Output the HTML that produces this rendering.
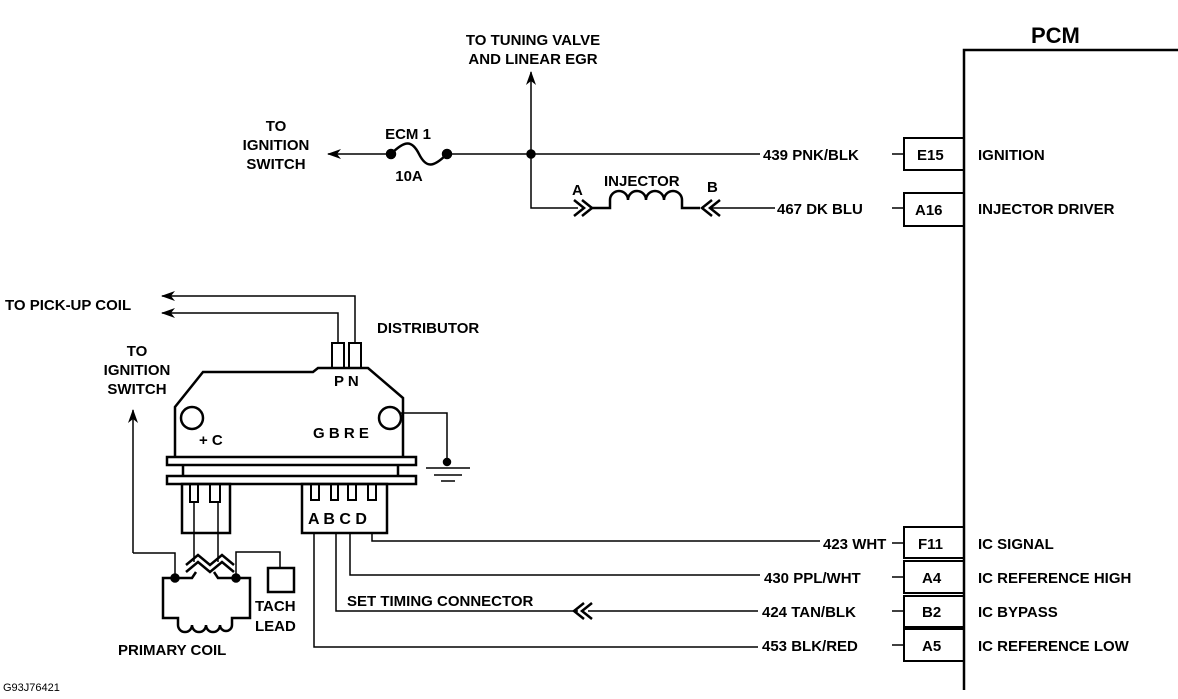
<!DOCTYPE html>
<html><head><style>
body{margin:0;background:#fff}
svg{display:block}
text{font-family:"Liberation Sans",sans-serif;font-weight:bold;fill:#000;font-size:15px}
</style></head><body>
<svg width="1178" height="699" viewBox="0 0 1178 699" xmlns="http://www.w3.org/2000/svg">
<defs>
<marker id="ar" markerWidth="14" markerHeight="10" refX="13" refY="5" orient="auto" markerUnits="userSpaceOnUse">
<path d="M0,0 L14,5 L0,10 L4,5 Z" fill="#000" stroke="none"/>
</marker>
</defs>
<g fill="none" stroke="#000" stroke-width="1.5">
<!-- PCM -->
<path d="M964,690 V50 H1178" stroke-width="2.5"/>
<rect x="904" y="138" width="60" height="32" stroke-width="2"/>
<rect x="904" y="193" width="60" height="33" stroke-width="2"/>
<rect x="904" y="527" width="60" height="31" stroke-width="2"/>
<rect x="904" y="561" width="60" height="32" stroke-width="2"/>
<rect x="904" y="596" width="60" height="31" stroke-width="2"/>
<rect x="904" y="629" width="60" height="32" stroke-width="2"/>
<!-- ignition wire -->
<path d="M892,154 H904"/>
<path d="M760,154 H447"/>
<path d="M391,154 H328" marker-end="url(#ar)"/>
<path d="M391,154 C405,140 412,140 419,154 C426,168 433,168 447,154" stroke-width="2.5"/>
<path d="M531,154 V72" marker-end="url(#ar)"/>
<path d="M531,154 V208 H578"/>
<path d="M574,200 L584,208 L574,216 M582,200 L592,208 L582,216" stroke-width="2.5"/>
<path d="M592,208 H610 V200 a9,9 0 0 1 18,0 a9,9 0 0 1 18,0 a9,9 0 0 1 18,0 a9,9 0 0 1 18,0 V208 H700" stroke-width="2.5"/>
<path d="M712,200 L702,208 L712,216 M720,200 L710,208 L720,216" stroke-width="2.5"/>
<path d="M712,208 H775 M892,208 H904"/>
<!-- module -->
<path d="M175,457 V407 L203,372 H313 L318,368 H368 L403,398 V457" stroke-width="2.5"/>
<circle cx="192" cy="418" r="11" stroke-width="2.5"/>
<circle cx="390" cy="418" r="11" stroke-width="2.5"/>
<rect x="167" y="457" width="249" height="8" stroke-width="2.5"/>
<path d="M183,465 V476 M398,465 V476" stroke-width="2.5"/>
<rect x="167" y="476" width="249" height="8" stroke-width="2.5"/>
<rect x="332" y="343" width="12" height="25" stroke-width="2"/>
<rect x="349" y="343" width="12" height="25" stroke-width="2"/>
<path d="M338,343 V313 H162" marker-end="url(#ar)"/>
<path d="M355,343 V296 H162" marker-end="url(#ar)"/>
<!-- ground -->
<path d="M401,413 H447 V462"/>
<circle cx="447" cy="462" r="3.5" fill="#000"/>
<path d="M426,468 H470 M434,475 H462 M441,481 H455"/>
<!-- left connector -->
<rect x="182" y="484" width="48" height="49" stroke-width="2.5"/>
<path d="M190,484 V502 H198 V484 M210,484 V502 H220 V484" stroke-width="2"/>
<path d="M194,502 V562 M218,502 V562"/>
<path d="M186,565 L198,555 L210,565 L222,555 L234,565 M186,572 L198,562 L210,572 L222,562 L234,572" stroke-width="2.5"/>
<!-- right connector -->
<rect x="302" y="484" width="85" height="49" stroke-width="2.5"/>
<path d="M311,484 V500 H319 V484 M331,484 V500 H338 V484 M348,484 V500 H356 V484 M368,484 V500 H376 V484" stroke-width="2"/>
<!-- wires -->
<path d="M372,533 V541 H820"/>
<path d="M350,533 V575 H760"/>
<path d="M336,533 V611 H578"/>
<path d="M584,603 L574,611 L584,619 M592,603 L582,611 L592,619" stroke-width="2.5"/>
<path d="M588,611 H758"/>
<path d="M314,533 V647 H758"/>
<path d="M892,543 H904 M892,577 H904 M892,611 H904 M892,645 H904"/>
<!-- primary coil -->
<path d="M133,553 V410" marker-end="url(#ar)"/>
<path d="M133,553 H175 V578"/>
<path d="M236,578 V552 H280 V568"/>
<rect x="268" y="568" width="26" height="24" stroke-width="2.5"/>
<path d="M175,578 L192,578 L196,572 M236,578 L218,578 L214,572" stroke-width="2.5"/>
<path d="M175,578 H163 V618 H178 V625 a7,7 0 0 0 14,0 a7,7 0 0 0 14,0 a7,7 0 0 0 14,0 a6,6 0 0 0 12,0 V618 H250 V578 H236" stroke-width="2.5"/>
<circle cx="175" cy="578" r="4" fill="#000"/>
<circle cx="236" cy="578" r="4" fill="#000"/>
<circle cx="391" cy="154" r="4.5" fill="#000"/>
<circle cx="447" cy="154" r="4.5" fill="#000"/>
<circle cx="531" cy="154" r="4" fill="#000"/>
</g>
<text x="1031" y="43" style="font-size:22px">PCM</text>
<text x="978" y="160">IGNITION</text>
<text x="978" y="214">INJECTOR DRIVER</text>
<text x="978" y="549">IC SIGNAL</text>
<text x="978" y="583">IC REFERENCE HIGH</text>
<text x="978" y="617">IC BYPASS</text>
<text x="978" y="651">IC REFERENCE LOW</text>
<text x="917" y="160">E15</text>
<text x="915" y="215">A16</text>
<text x="918" y="549">F11</text>
<text x="922" y="583">A4</text>
<text x="922" y="617">B2</text>
<text x="922" y="651">A5</text>
<text x="763" y="160">439 PNK/BLK</text>
<text x="777" y="214">467 DK BLU</text>
<text x="823" y="549">423 WHT</text>
<text x="764" y="583">430 PPL/WHT</text>
<text x="762" y="617">424 TAN/BLK</text>
<text x="762" y="651">453 BLK/RED</text>
<text x="533" y="45" text-anchor="middle">TO TUNING VALVE</text>
<text x="533" y="64" text-anchor="middle">AND LINEAR EGR</text>
<text x="276" y="131" text-anchor="middle">TO</text>
<text x="276" y="150" text-anchor="middle">IGNITION</text>
<text x="276" y="169" text-anchor="middle">SWITCH</text>
<text x="408" y="139" text-anchor="middle">ECM 1</text>
<text x="409" y="181" text-anchor="middle">10A</text>
<text x="572" y="195">A</text>
<text x="604" y="186">INJECTOR</text>
<text x="707" y="192">B</text>
<text x="5" y="310">TO PICK-UP COIL</text>
<text x="377" y="333">DISTRIBUTOR</text>
<text x="137" y="356" text-anchor="middle">TO</text>
<text x="137" y="375" text-anchor="middle">IGNITION</text>
<text x="137" y="394" text-anchor="middle">SWITCH</text>
<text x="334" y="386">P N</text>
<text x="199" y="445">+ C</text>
<text x="313" y="438">G B R E</text>
<text x="308" y="524" style="font-size:16px">A B C  D</text>
<text x="347" y="606">SET TIMING CONNECTOR</text>
<text x="255" y="611">TACH</text>
<text x="255" y="631">LEAD</text>
<text x="118" y="655">PRIMARY COIL</text>
<text x="3" y="691" style="font-size:11px;font-weight:normal">G93J76421</text>
</svg>
</body></html>
